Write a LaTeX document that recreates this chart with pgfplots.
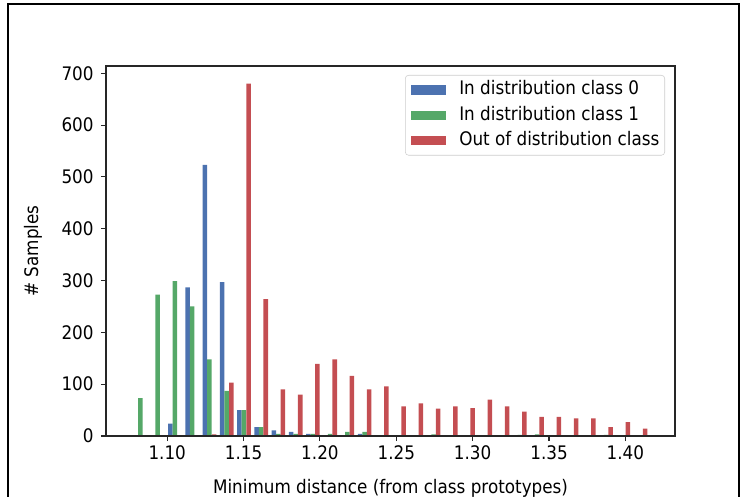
\documentclass[border=0pt]{standalone}
\usepackage{fontspec}
\setmainfont{DejaVu Sans}[FakeStretch=0.9]
\usepackage{pgfplots}
\pgfplotsset{compat=1.18}

\definecolor{cblue}{HTML}{4C72B0}
\definecolor{cgreen}{HTML}{55A868}
\definecolor{cred}{HTML}{C44E52}

% histogram counts per bin (x = bin centre), 30 bins of width 0.011293
\pgfplotstableread{
x        n
1.10503  24
1.11633  287
1.12762  523
1.13891  297
1.15021  50
1.16150  17
1.17279  11
1.18409  8
1.19538  4
1.22926  4
}\classzero
\pgfplotstableread{
x        n
1.08245  73
1.09374  273
1.10503  299
1.11633  250
1.12762  148
1.13891  87
1.15021  50
1.16150  17
1.17279  4
1.18409  4
1.19538  4
1.20668  4
1.21797  8
1.22926  8
1.27443  3
1.33090  2
1.34219  3
1.38737  2
}\classone
\pgfplotstableread{
x        n
1.12762  3
1.13891  103
1.15021  680
1.16150  264
1.17279  90
1.18409  80
1.19538  139
1.20668  148
1.21797  116
1.22926  90
1.24055  96
1.25185  57
1.26314  63
1.27443  53
1.28573  57
1.29702  54
1.30831  70
1.31961  57
1.33090  47
1.34219  37
1.35349  37
1.36478  34
1.37607  34
1.38737  17
1.39866  27
1.40996  14
}\ood

\begin{document}
\begin{tikzpicture}[font=\fontsize{14}{16.8}\selectfont]
\path[use as bounding box] (-79.5pt,-45pt) rectangle (476.25pt,327pt);
\begin{axis}[
  at={(0pt,0pt)}, anchor=south west,
  scale only axis, width=426.75pt, height=277.5pt,
  xmin=1.0599, xmax=1.4325, ymin=0, ymax=714,
  axis on top,
  ybar, bar width=0.00295,
  xtick={1.10,1.15,1.20,1.25,1.30,1.35,1.40},
  ytick={0,100,200,300,400,500,600,700},
  /pgf/number format/assume math mode=true,
  xticklabel style={/pgf/number format/.cd, fixed, fixed zerofill, precision=2},
  yticklabel style={xshift=-2pt, /pgf/number format/.cd, fixed, precision=0},
  scaled x ticks=false,
  tick pos=left, tick align=outside, major tick length=3.75pt,
  tick style={black!85, line width=0.8pt},
  axis line style={black!85, line width=0.8pt},
  every axis x label/.style={at={([yshift=-39pt]axis description cs:0.5,0)}, anchor=center},
  every axis y label/.style={at={([xshift=-54.75pt]axis description cs:0,0.5)}, anchor=center, rotate=90},
  xlabel={Minimum distance (from class prototypes)},
  ylabel={\# Samples},
  legend style={at={(1,1)}, anchor=north east, xshift=-7.5pt, yshift=-6.75pt,
    draw=black!20, fill=white, rounded corners=2.5pt,
    inner xsep=4pt, inner ysep=4.25pt, row sep=5.5pt, column sep=0pt,
    nodes={inner sep=0pt, text height=10.5pt, text depth=3pt}},
  legend cell align=left,
  legend image code/.code={\fill[#1, draw=none, sharp corners] (0pt,-3.5pt) rectangle (26.5pt,3.5pt); \path (36.5pt,0pt);},
]
\addplot[fill=cblue, draw=none, bar shift=-0.00301] table[x=x, y=n] {\classzero};
\addlegendentry{In distribution class 0}
\addplot[fill=cgreen, draw=none, bar shift=0] table[x=x, y=n] {\classone};
\addlegendentry{In distribution class 1}
\addplot[fill=cred, draw=none, bar shift=0.00301] table[x=x, y=n] {\ood};
\addlegendentry{Out of distribution class}
\end{axis}
% figure frame
\draw[black, line width=1.9pt] (-73.5pt,-46pt) -- (-73.5pt,324pt) -- (474.75pt,324pt) -- (474.75pt,-46pt);
\end{tikzpicture}
\end{document}
